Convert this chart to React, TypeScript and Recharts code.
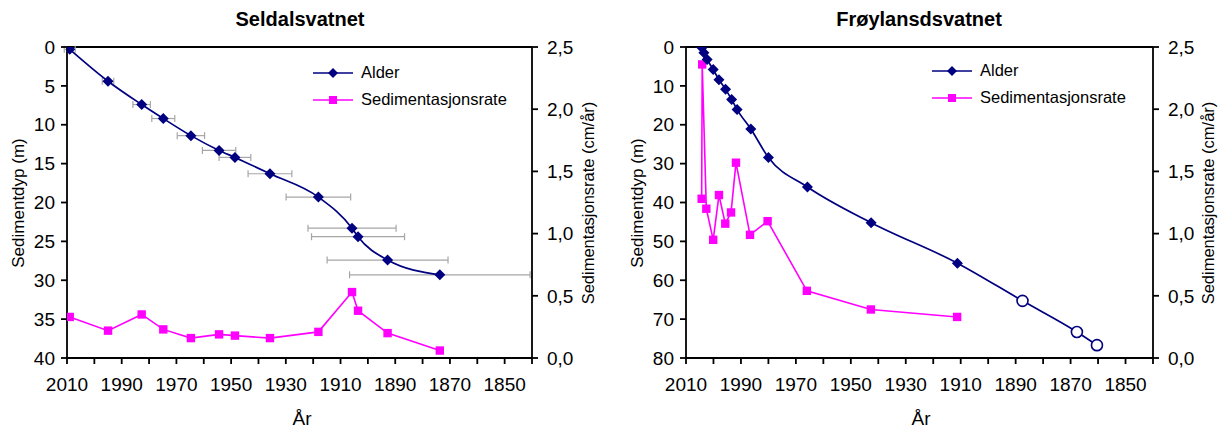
import {
  ComposedChart,
  ErrorBar,
  Legend,
  Line,
  ReferenceLine,
  Scatter,
  XAxis,
  YAxis,
} from "recharts";

const FONT = '"Liberation Sans", Arial, sans-serif';
const NAVY = "#000080";
const MAGENTA = "#ff00ff";
const ERR_GRAY = "#a6a6a6";

const YEAR_TICKS = [
  2010, 2000, 1990, 1980, 1970, 1960, 1950, 1940, 1930, 1920, 1910, 1900, 1890,
  1880, 1870, 1860, 1850, 1840,
];
const RATE_TICKS = [0, 0.5, 1, 1.5, 2, 2.5];
const LEGEND_NAMES = ["Alder", "Sedimentasjonsrate"];

// Seldalsvatnet
const SEL_YEAR = [2009, 1995, 1982.7, 1974.8, 1964.7, 1954.4, 1948.6, 1935.8, 1918.1, 1905.8, 1903.6, 1892.8, 1873.7];
const SEL_DEPTH = [0.3, 4.4, 7.4, 9.2, 11.4, 13.3, 14.2, 16.3, 19.3, 23.3, 24.4, 27.4, 29.3];
const SEL_ERR = [2, 2.1, 3.2, 4.2, 5, 6.1, 5.8, 8, 11.8, 16.1, 17, 22.1, 33];
const SEL_RATE = [0.33, 0.22, 0.35, 0.23, 0.16, 0.19, 0.18, 0.16, 0.21, 0.53, 0.38, 0.2, 0.06];
const SEL_DEPTH_TICKS = [0, 5, 10, 15, 20, 25, 30, 35, 40];

// Frøylansdsvatnet
const FRO_YEAR = [2004.2, 2003.5, 2002.3, 2000.1, 1998, 1995.6, 1993.4, 1991.4, 1986.4, 1980, 1965.8, 1942.6, 1911.2];
const FRO_DEPTH = [0.2, 1.5, 3.2, 5.8, 8.4, 10.9, 13.5, 16.1, 21.1, 28.4, 36.0, 45.2, 55.6];
const FRO_EST_YEAR = [1887.5, 1867.7, 1860.4]; // extrapolated (open circles)
const FRO_EST_DEPTH = [65.3, 73.3, 76.7];
const FRO_RATE_YEAR = [2004.3, 2004.1, 2002.6, 2000.1, 1998, 1995.7, 1993.6, 1991.8, 1986.7, 1980.3, 1966, 1942.7, 1911.3];
const FRO_RATE = [1.28, 2.36, 1.2, 0.95, 1.31, 1.08, 1.17, 1.57, 0.99, 1.1, 0.54, 0.39, 0.33];
const FRO_DEPTH_TICKS = [0, 10, 20, 30, 40, 50, 60, 70, 80];

const selAge = SEL_YEAR.map((year, i) => ({ year, depth: SEL_DEPTH[i], err: SEL_ERR[i] }));
const selRate = SEL_YEAR.map((year, i) => ({ year, rate: SEL_RATE[i] }));
const froAge = [
  ...FRO_YEAR.map((year, i) => ({ year, depth: FRO_DEPTH[i], est: false })),
  ...FRO_EST_YEAR.map((year, i) => ({ year, depth: FRO_EST_DEPTH[i], est: true })),
];
const froRate = FRO_RATE_YEAR.map((year, i) => ({ year, rate: FRO_RATE[i] }));

const yearLabel = (v: number) => ((2010 - v) % 20 === 0 ? String(v) : "");
const comma = (v: number) => v.toFixed(1).replace(".", ",");

const tickStyle = { fill: "#000", fontSize: 19, fontFamily: FONT };

function ageDot(props: any) {
  const { cx, cy, payload, index } = props;
  if (cx == null || cy == null) return <g key={index} />;
  if (payload && payload.est) {
    return <circle key={index} cx={cx} cy={cy} r={5.5} fill="#fff" stroke={NAVY} strokeWidth={1.6} />;
  }
  const s = 5.5;
  return (
    <path
      key={index}
      d={`M${cx},${cy - s}L${cx + s},${cy}L${cx},${cy + s}L${cx - s},${cy}Z`}
      fill={NAVY}
    />
  );
}

function squareDot(props: any) {
  const { cx, cy, index } = props;
  if (cx == null || cy == null) return <g key={index} />;
  return <rect key={index} x={cx - 4.2} y={cy - 4.2} width={8.4} height={8.4} fill={MAGENTA} />;
}

const noShape = () => <g />;

function legendContent() {
  return (
    <div style={{ fontFamily: FONT, fontSize: 16.5, color: "#000" }}>
      {LEGEND_NAMES.map((name, i) => (
        <div key={name} style={{ display: "flex", alignItems: "center", height: 27 }}>
          <svg width={48} height={14}>
            <line x1={0} x2={40} y1={7} y2={7} stroke={i === 0 ? NAVY : MAGENTA} strokeWidth={1.6} />
            {i === 0 ? (
              <path d="M20,2L25,7L20,12L15,7Z" fill={NAVY} />
            ) : (
              <rect x={16} y={3} width={8} height={8} fill={MAGENTA} />
            )}
          </svg>
          <span style={{ whiteSpace: "nowrap" }}>{name}</span>
        </div>
      ))}
    </div>
  );
}

function LakePanel({
  width,
  leftWidth,
  rightWidth,
  age,
  rate,
  depthMax,
  depthTicks,
  withErrors,
  legendLeft,
  legendTop,
}: {
  width: number;
  leftWidth: number;
  rightWidth: number;
  age: any[];
  rate: any[];
  depthMax: number;
  depthTicks: number[];
  withErrors: boolean;
  legendLeft: number;
  legendTop: number;
}) {
  return (
    <ComposedChart width={width} height={430} margin={{ top: 47, right: 0, bottom: 0, left: 0 }}>
      <XAxis
        dataKey="year"
        type="number"
        domain={[1840, 2010]}
        reversed
        allowDataOverflow
        ticks={YEAR_TICKS}
        interval={0}
        tickFormatter={yearLabel}
        height={72}
        stroke="#000"
        strokeWidth={1.8}
        tick={tickStyle}
        tickSize={6}
        tickMargin={14}
      />
      <YAxis
        yAxisId="depth"
        type="number"
        domain={[0, depthMax]}
        reversed
        allowDataOverflow
        ticks={depthTicks}
        interval={0}
        width={leftWidth}
        stroke="#000"
        strokeWidth={1.8}
        tick={tickStyle}
        tickSize={6}
        tickMargin={6}
      />
      <YAxis
        yAxisId="rate"
        orientation="right"
        type="number"
        domain={[0, 2.5]}
        allowDataOverflow
        ticks={RATE_TICKS}
        interval={0}
        tickFormatter={comma}
        width={rightWidth}
        stroke="#000"
        strokeWidth={1.8}
        tick={tickStyle}
        tickSize={6}
        tickMargin={9}
      />
      <ReferenceLine yAxisId="depth" y={0} stroke="#000" strokeWidth={1.8} />
      {withErrors && (
        <Scatter
          data={age}
          dataKey="depth"
          yAxisId="depth"
          shape={noShape}
          legendType="none"
          isAnimationActive={false}
        >
          <ErrorBar dataKey="err" direction="x" width={3.5} stroke={ERR_GRAY} strokeWidth={1.2} />
        </Scatter>
      )}
      <Line
        data={rate}
        dataKey="rate"
        name="Sedimentasjonsrate"
        yAxisId="rate"
        type="linear"
        stroke={MAGENTA}
        strokeWidth={1.6}
        dot={squareDot}
        isAnimationActive={false}
      />
      <Line
        data={age}
        dataKey="depth"
        name="Alder"
        yAxisId="depth"
        type="monotone"
        stroke={NAVY}
        strokeWidth={1.7}
        dot={ageDot}
        isAnimationActive={false}
      />
      <Legend
        layout="vertical"
        align="center"
        verticalAlign="middle"
        content={legendContent}
        wrapperStyle={{ top: legendTop, left: legendLeft, width: 240, height: 56 }}
      />
    </ComposedChart>
  );
}

export default function App() {
  return (
    <div style={{ position: "absolute", left: 0, top: 0, width: 1229, height: 430, background: "#fff" }}>
      <div style={{ position: "absolute", left: 0, top: 0 }}>
        <LakePanel
          width={614}
          leftWidth={67}
          rightWidth={82}
          age={selAge}
          rate={selRate}
          depthMax={40}
          depthTicks={SEL_DEPTH_TICKS}
          withErrors
          legendLeft={313}
          legendTop={59}
        />
      </div>
      <div style={{ position: "absolute", left: 614, top: 0 }}>
        <LakePanel
          width={615}
          leftWidth={72}
          rightWidth={76}
          age={froAge}
          rate={froRate}
          depthMax={80}
          depthTicks={FRO_DEPTH_TICKS}
          withErrors={false}
          legendLeft={318}
          legendTop={57}
        />
      </div>
      <svg
        width={1229}
        height={430}
        style={{ position: "absolute", left: 0, top: 0, pointerEvents: "none" }}
        fontFamily={FONT}
      >
        <text x={300} y={26} textAnchor="middle" fontSize={20} fontWeight="bold">Seldalsvatnet</text>
        <text x={919} y={26} textAnchor="middle" fontSize={20} fontWeight="bold">Frøylansdsvatnet</text>
        <text x={302} y={425} textAnchor="middle" fontSize={19}>År</text>
        <text x={921} y={425} textAnchor="middle" fontSize={19}>År</text>
        <text transform="translate(24,203) rotate(-90)" textAnchor="middle" fontSize={17}>Sedimentdyp (m)</text>
        <text transform="translate(643,203) rotate(-90)" textAnchor="middle" fontSize={17}>Sedimentdyp (m)</text>
        <text transform="translate(594,203) rotate(-90)" textAnchor="middle" fontSize={16.5}>Sedimentasjonsrate (cm/år)</text>
        <text transform="translate(1214,203) rotate(-90)" textAnchor="middle" fontSize={16.5}>Sedimentasjonsrate (cm/år)</text>
      </svg>
    </div>
  );
}
